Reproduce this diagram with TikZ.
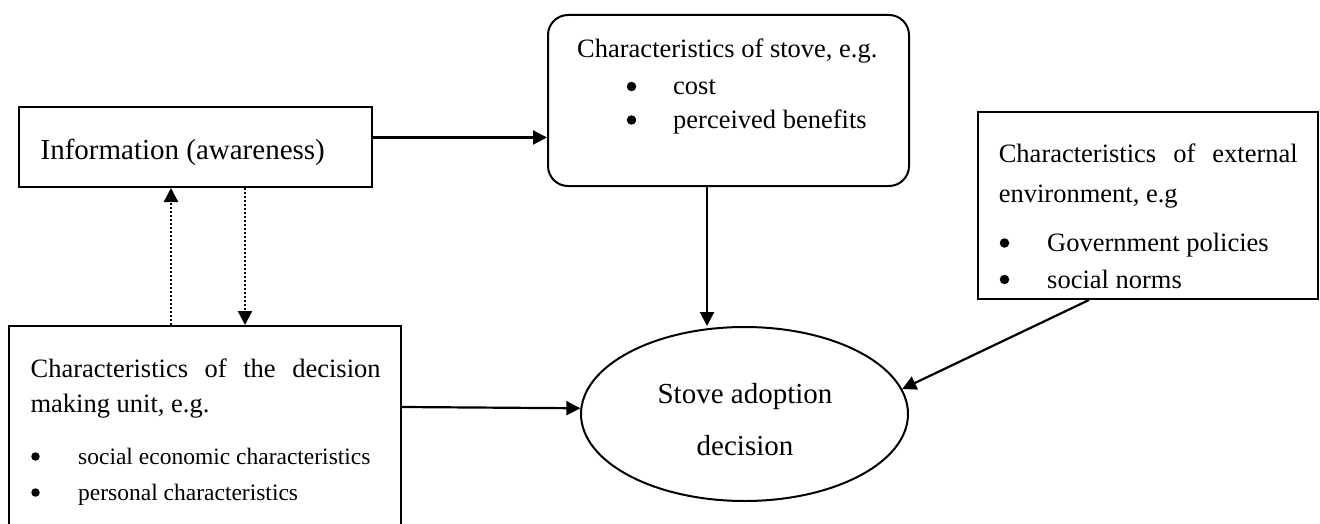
\documentclass[tikz,border=0pt]{standalone}
\usepackage{fontspec}
\setmainfont{Liberation Serif}
\usetikzlibrary{arrows.meta,shapes.geometric}
\tikzset{every node/.append style={transform shape=false}}
\tikzset{
  box/.style={draw, line width=2pt, inner sep=0pt},
  lbl/.style={anchor=base west, inner sep=0pt},
  dot/.style={circle, fill, inner sep=0pt, minimum size=9.5pt},
  arr/.style={line width=2.2pt, -{Triangle[length=14pt,width=14pt]}},
  dotarr/.style={arr, dash pattern=on 2pt off 2pt},
  big/.style={font=\fontsize{29}{34}\selectfont},
  mid/.style={font=\fontsize{26.5}{31}\selectfont},
  sml/.style={font=\fontsize{23.5}{28}\selectfont},
}

\begin{document}
\begin{tikzpicture}[x=1pt,y=-1pt]
  \useasboundingbox (0,0) rectangle (1320,524);
  \clip (0,0) rectangle (1320,524);
  % boxes
  \node[box, minimum width=353pt, minimum height=80pt] (info) at (195.5,147) {};
  \node[box, rounded corners=20pt, minimum width=361pt, minimum height=171pt] (stove) at (728.5,100.5) {};
  \node[box, minimum width=340pt, minimum height=187pt] (ext) at (1148,205.5) {};
  \node[box, minimum width=392pt, minimum height=240pt] (unit) at (205,446) {};
  \node[box, ellipse, minimum width=327pt, minimum height=174pt] (adopt) at (744.5,414) {};
  % texts
  \node[lbl, big] (infotxt) at (40.4,160) {Information (awareness)};
  \node[lbl, mid] (stovetxt) at (577,58) {Characteristics of stove, e.g.};
  \foreach \y/\t [count=\i] in {95/cost, 128.5/perceived benefits} {
    \node[dot] (stovedot\i) at (631.5,\y-8.5) {};
    \node[lbl, mid] (stoveitem\i) at (673,\y) {\t};
  }
  \node[lbl, mid] (exttxt1) at (998.6,163) {\makebox[299pt][s]{Characteristics of external}};
  \node[lbl, mid] (exttxt2) at (998.6,202) {environment, e.g};
  \foreach \y/\t [count=\i] in {251.5/Government policies, 288/social norms} {
    \node[dot] (extdot\i) at (1004.5,\y-8.5) {};
    \node[lbl, mid] (extitem\i) at (1047,\y) {\t};
  }
  \node[lbl, mid] (unittxt1) at (30.4,377) {\makebox[350pt][s]{Characteristics of the decision}};
  \node[lbl, mid] (unittxt2) at (30.4,412) {making unit, e.g.};
  \foreach \y/\t [count=\i] in {464/social economic characteristics, 500/personal characteristics} {
    \node[dot, minimum size=8.5pt] (unitdot\i) at (35.5,\y-7.5) {};
    \node[lbl, sml] (unititem\i) at (78,\y) {\t};
  }
  \node[anchor=base, inner sep=0pt, big] (adopttxt1) at (745,403) {Stove adoption};
  \node[anchor=base, inner sep=0pt, big] (adopttxt2) at (745,455) {decision};
  % arrows
  \draw[arr] ([yshift=9.5pt]info.east) -- ([yshift=9.5pt]info.east -| stove.west);
  \draw[arr] ([xshift=-21.5pt]stove.south) -- ([xshift=-21.5pt]stove.south |- adopt.north);
  \draw[arr] ([yshift=-82pt]unit.north east) -- (adopt.178);
  \draw[arr] ([xshift=-59pt]ext.south) -- (adopt.9);
  \draw[dotarr] ([xshift=-34pt]unit.north) -- ([xshift=-34pt]unit.north |- info.south);
  \draw[dotarr] ([xshift=49.5pt]info.south) -- ([xshift=49.5pt]info.south |- unit.north);
\end{tikzpicture}
\end{document}
